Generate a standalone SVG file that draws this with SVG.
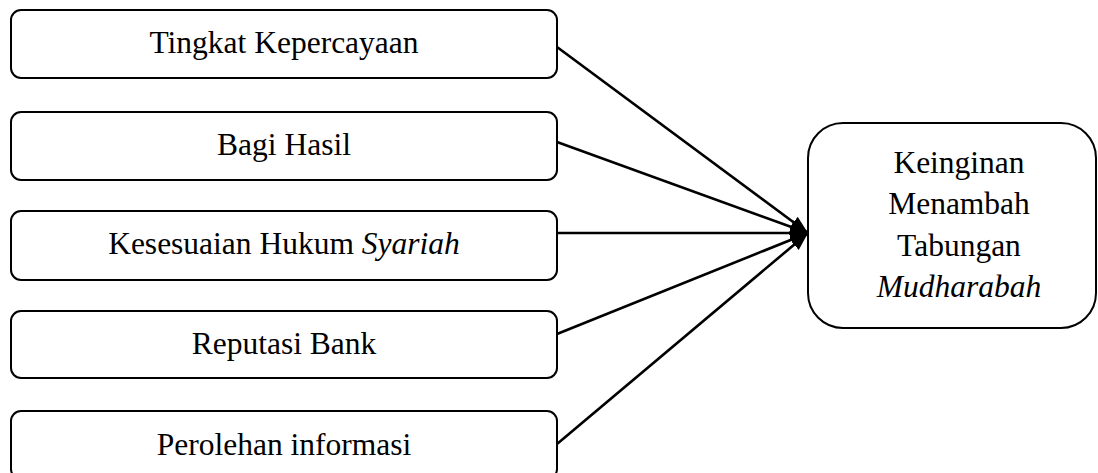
<svg xmlns="http://www.w3.org/2000/svg" width="1098" height="473" viewBox="0 0 1098 473">
  <style>
    .box { fill: #ffffff; stroke: #000000; stroke-width: 2; }
    .label { font-family: "Liberation Serif", "Times New Roman", serif; font-size: 31.5px; fill: #000000; text-anchor: middle; }
    .em { font-style: italic; }
    .link { stroke: #000000; stroke-width: 2.6; fill: none; marker-end: url(#head); }
  </style>
  <defs>
    <marker id="head" markerUnits="userSpaceOnUse" markerWidth="20" markerHeight="16" refX="18" refY="8" orient="auto">
      <path d="M0,1 L18,8 L0,15 Z" fill="#000000"/>
    </marker>
  </defs>
  <rect width="1098" height="473" fill="#ffffff"/>

  <g id="connectors">
    <line class="link" x1="557" y1="47" x2="808" y2="233"/>
    <line class="link" x1="557" y1="142" x2="808" y2="233"/>
    <line class="link" x1="557" y1="233" x2="808" y2="233"/>
    <line class="link" x1="557" y1="334" x2="808" y2="233"/>
    <line class="link" x1="557" y1="444" x2="808" y2="233"/>
  </g>

  <g id="node-tingkat-kepercayaan">
    <rect class="box" x="11" y="10" width="546" height="68" rx="10"/>
    <text class="label" x="284" y="53">Tingkat Kepercayaan</text>
  </g>

  <g id="node-bagi-hasil">
    <rect class="box" x="11" y="112" width="546" height="68" rx="10"/>
    <text class="label" x="284" y="155">Bagi Hasil</text>
  </g>

  <g id="node-kesesuaian-hukum">
    <rect class="box" x="11" y="211" width="546" height="69" rx="10"/>
    <text class="label" x="284" y="254">Kesesuaian Hukum <tspan class="em">Syariah</tspan></text>
  </g>

  <g id="node-reputasi-bank">
    <rect class="box" x="11" y="311" width="546" height="67" rx="10"/>
    <text class="label" x="284" y="354">Reputasi Bank</text>
  </g>

  <g id="node-perolehan-informasi">
    <rect class="box" x="11" y="411" width="546" height="68" rx="10"/>
    <text class="label" x="284" y="455">Perolehan informasi</text>
  </g>

  <g id="node-keinginan-menambah">
    <rect class="box" x="808" y="123" width="288" height="205" rx="35"/>
    <text class="label" x="959" y="173">Keinginan</text>
    <text class="label" x="959" y="214">Menambah</text>
    <text class="label" x="959" y="256">Tabungan</text>
    <text class="label em" x="959" y="297">Mudharabah</text>
  </g>
</svg>
